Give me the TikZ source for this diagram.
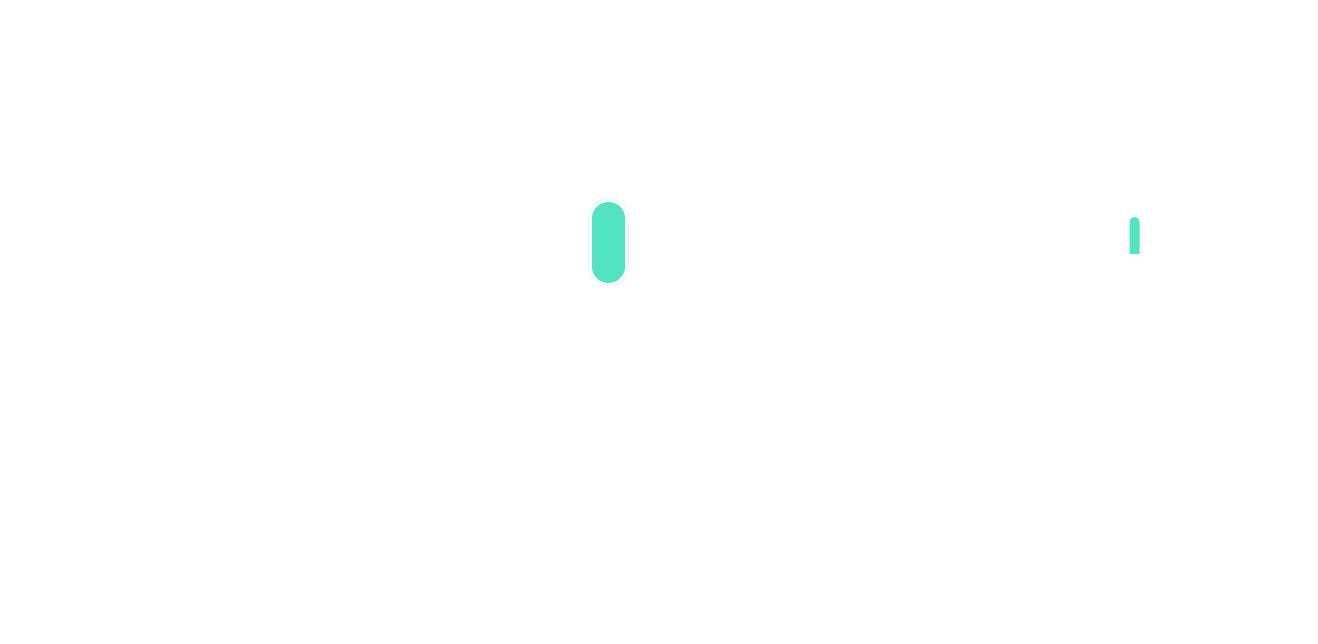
\documentclass[tikz,border=0pt]{standalone}
\definecolor{teal}{RGB}{82,227,194}
\definecolor{paleteal}{RGB}{215,248,240}
\tikzset{
  pill/.style={fill=teal, draw=none, rounded corners=16.5pt, minimum width=33pt, minimum height=81pt, inner sep=0pt},
  halo/.style={draw=paleteal, line width=0.6pt, rounded corners=20pt, minimum width=40pt, minimum height=88pt, inner sep=0pt}
}
\begin{document}
\begin{tikzpicture}[x=1pt,y=1pt]
  \fill[white] (0,0) rectangle (1318,644);
  \useasboundingbox (0,0) rectangle (1318,644);
  % left pill with faint halo (centre x 608.5, y 242.5 from top)
  \node[halo] (pillring) at (608.5,{644-242.5}) {};
  \node[pill] (pill) at (608.5,{644-242.5}) {};
  % right small bar: rounded top, flat bottom
  \coordinate (bartop) at (1134.5,{644-217});
  \fill[teal] (1129.5,{644-254}) -- (1129.5,{644-222}) arc[start angle=180,end angle=0,radius=5] -- (1139.5,{644-254}) -- cycle;
\end{tikzpicture}
\end{document}
